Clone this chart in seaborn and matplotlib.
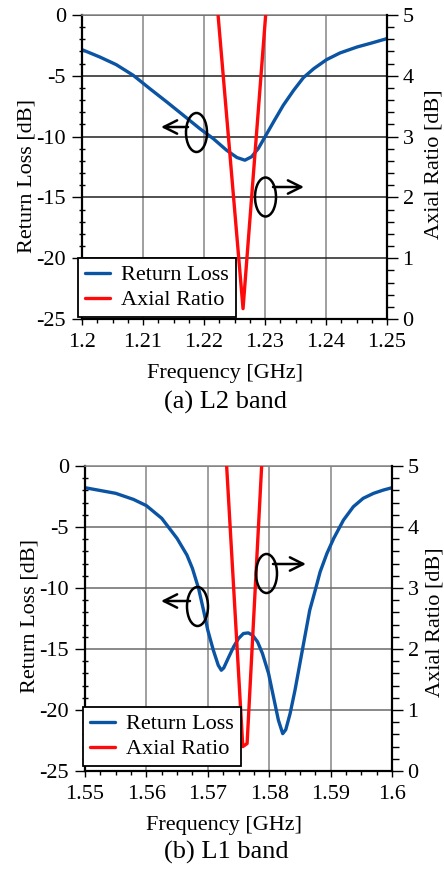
import matplotlib
matplotlib.use("Agg")
import matplotlib.pyplot as plt
import seaborn as sns
import pandas as pd
from matplotlib.patches import Ellipse, FancyArrowPatch
from matplotlib.ticker import MultipleLocator
from matplotlib.lines import Line2D

# ---------------- data ----------------
l2_freq = [1.2000, 1.2029, 1.2056, 1.2084, 1.2111, 1.2139, 1.2166, 1.2193,
           1.2215, 1.2237, 1.2254, 1.2267, 1.2278, 1.2289, 1.2300, 1.2314,
           1.2330, 1.2347, 1.2363, 1.2380, 1.2401, 1.2423, 1.2451, 1.2475,
           1.2500]
l2_rl = [-2.85, -3.45, -4.08, -4.96, -6.05, -7.15, -8.24, -9.34,
         -10.16, -11.12, -11.72, -11.94, -11.66, -10.98, -10.02, -8.79,
         -7.42, -6.19, -5.15, -4.41, -3.67, -3.12, -2.63, -2.30,
         -1.94]
l2_ar_freq = [1.2220, 1.2264, 1.2305]
l2_ar = [5.36, 0.17, 5.51]

l1_freq = [1.5500, 1.5550, 1.5579, 1.5600, 1.5625, 1.5650, 1.5666, 1.5675,
           1.5685, 1.5693, 1.5700, 1.5709, 1.5717, 1.5722, 1.5726, 1.5733,
           1.5742, 1.5750, 1.5758, 1.5766, 1.5773, 1.5781, 1.5789, 1.5799,
           1.5807, 1.5815, 1.5822, 1.5827, 1.5834, 1.5842, 1.5850, 1.5858,
           1.5866, 1.5875, 1.5883, 1.5894, 1.5905, 1.5921, 1.5937, 1.5953,
           1.5970, 1.5986, 1.6000]
l1_rl = [-1.78, -2.24, -2.74, -3.25, -4.29, -5.94, -7.30, -8.40,
         -10.04, -11.82, -13.46, -15.10, -16.33, -16.74, -16.55, -15.78,
         -14.82, -14.14, -13.73, -13.68, -13.87, -14.41, -15.37, -17.01,
         -18.93, -20.84, -21.94, -21.61, -20.30, -18.38, -16.19, -14.00,
         -11.82, -10.18, -8.67, -7.17, -5.94, -4.43, -3.34, -2.65,
         -2.24, -1.97, -1.78]
l1_ar_freq = [1.5728, 1.5757, 1.5764, 1.5790]
l1_ar = [5.47, 0.40, 0.45, 5.44]

l2_xticks = [1.20, 1.21, 1.22, 1.23, 1.24, 1.25]
l2_xticklabels = ["1.2", "1.21", "1.22", "1.23", "1.24", "1.25"]
l1_xticks = [1.55, 1.56, 1.57, 1.58, 1.59, 1.60]
l1_xticklabels = ["1.55", "1.56", "1.57", "1.58", "1.59", "1.6"]
rl_ticks = [-25, -20, -15, -10, -5, 0]
ar_ticks = [0, 1, 2, 3, 4, 5]
series_names = ["Return Loss", "Axial Ratio"]
subtitles = ["(a) L2 band", "(b) L1 band"]

BLUE = "#0b54a4"
RED = "#ff0a0a"

sns.set_theme(style="white")
plt.rcParams["font.family"] = ["Liberation Serif", "DejaVu Serif"]
plt.rcParams["axes.unicode_minus"] = False

W, H = 444, 869
fig = plt.figure(figsize=(W / 100, H / 100), dpi=100)


def fx(x, y):
    return (x / W, 1 - y / H)


FS = 16
LW = 2.4


def panel(box, freq, rl, arf, ar, xlim, xticks, xticklabels, hcol, legpos,
          ells, arrows, lab_y, rpad):
    l, t, r, b = box
    ax = fig.add_axes([l / W, 1 - b / H, (r - l) / W, (b - t) / H])
    ax2 = ax.twinx()
    df = pd.DataFrame({"f": freq, "v": rl})
    da = pd.DataFrame({"f": arf, "v": ar})
    sns.lineplot(data=df, x="f", y="v", ax=ax, color=BLUE, lw=LW,
                 estimator=None, sort=False, legend=False)
    sns.lineplot(data=da, x="f", y="v", ax=ax2, color=RED, lw=LW,
                 estimator=None, sort=False, legend=False)
    ax.set_xlim(*xlim)
    ax.set_ylim(-25, 0)
    ax2.set_ylim(0, 5)
    ax.set_xticks(xticks)
    ax.set_xticklabels(xticklabels)
    ax.set_yticks(rl_ticks)
    ax.set_yticklabels([str(v) for v in rl_ticks])
    ax2.set_yticks(ar_ticks)
    ax2.set_yticklabels([str(v) for v in ar_ticks])
    ax.xaxis.set_minor_locator(MultipleLocator(0.0025))
    ax.yaxis.set_minor_locator(MultipleLocator(1))
    ax2.yaxis.set_minor_locator(MultipleLocator(0.2))

    ax.grid(True, axis="x", which="major", color="#858585", lw=1.1)
    ax.grid(True, axis="y", which="major", color=hcol, lw=1.1)
    ax2.grid(False)

    ax.tick_params(axis="x", which="major", direction="out", length=4.5,
                   width=1, color="black", labelsize=FS, pad=5.5, bottom=True)
    ax.tick_params(axis="x", which="minor", direction="out", length=3,
                   width=1, color="black", bottom=True)
    ax.tick_params(axis="y", which="major", direction="out", length=7.5,
                   width=1, color="black", labelsize=FS, pad=4, left=True)
    ax.tick_params(axis="y", which="minor", direction="inout", length=4.5,
                   width=1, color="black", left=True)
    ax2.tick_params(axis="y", which="major", direction="out", length=8,
                    width=1, color="black", labelsize=FS, pad=3.2, right=True)
    ax2.tick_params(axis="y", which="minor", direction="out", length=5,
                    width=1, color="black", right=True)

    for a in (ax, ax2):
        for s in a.spines.values():
            s.set_visible(False)
    ax.spines["left"].set_visible(True)
    ax.spines["left"].set_color("black")
    ax.spines["left"].set_linewidth(1.6)
    ax.spines["bottom"].set_visible(True)
    ax.spines["bottom"].set_color("black")
    ax.spines["bottom"].set_linewidth(1.6)
    ax.spines["top"].set_visible(True)
    ax.spines["top"].set_color("#858585")
    ax.spines["top"].set_linewidth(1.1)
    ax2.spines["right"].set_visible(True)
    ax2.spines["right"].set_color("black")
    ax2.spines["right"].set_linewidth(1.6)

    ax.set_xlabel("Frequency [GHz]", fontsize=FS, labelpad=8.5, color="black")
    ax.set_ylabel("Return Loss [dB]", fontsize=FS, labelpad=0, color="black")
    ax2.set_ylabel("Axial Ratio [dB]", fontsize=FS, labelpad=rpad, color="black")
    ax.xaxis.label.set_x(lab_y[0])
    ax.yaxis.label.set_y(lab_y[1])
    ax2.yaxis.label.set_y(lab_y[2])
    for lab in ax.get_xticklabels() + ax.get_yticklabels() + ax2.get_yticklabels():
        lab.set_color("black")

    handles = [Line2D([], [], color=BLUE, lw=LW), Line2D([], [], color=RED, lw=LW)]
    leg = ax2.legend(handles, series_names, loc="lower left",
                     bbox_to_anchor=fx(*legpos), bbox_transform=fig.transFigure,
                     borderaxespad=0, frameon=True, fancybox=False,
                     edgecolor="black", framealpha=1, fontsize=FS,
                     handlelength=1.15, handletextpad=0.5, labelspacing=0.2,
                     borderpad=0.3)
    leg.get_frame().set_linewidth(1.3)
    for t_ in leg.get_texts():
        t_.set_color("black")

    for (cx, cy) in ells:
        fig.add_artist(Ellipse(fx(cx, cy), 21 / W, 39 / H, fill=False,
                               edgecolor="black", lw=1.8,
                               transform=fig.transFigure))
    for (x0, x1, y) in arrows:
        fig.add_artist(FancyArrowPatch(fx(x0, y), fx(x1, y), arrowstyle="->",
                                       mutation_scale=24, lw=1.8, color="black",
                                       transform=fig.transFigure,
                                       shrinkA=0, shrinkB=0))
    return ax, ax2


panel((82, 15, 387, 319), l2_freq, l2_rl, l2_ar_freq, l2_ar, (1.20, 1.25),
      l2_xticks, l2_xticklabels, "#202020", (78, 317),
      [(196.5, 132.5), (265.5, 197)], [(188, 161, 127), (273, 304, 187)],
      (0.469, 0.470, 0.51), 8)
panel((85, 466, 392, 771), l1_freq, l1_rl, l1_ar_freq, l1_ar, (1.55, 1.60),
      l1_xticks, l1_xticklabels, "#6a6a6a", (83, 766),
      [(197.5, 606.5), (266.5, 573.5)], [(190, 161, 601), (273, 306, 564)],
      (0.454, 0.508, 0.489), 5)

fig.text(*fx(225.5, 402), subtitles[0], ha="center", va="center", fontsize=19,
         color="black")
fig.text(*fx(226.5, 852), subtitles[1], ha="center", va="center", fontsize=19,
         color="black")

fig.savefig("out.png", dpi=100)
